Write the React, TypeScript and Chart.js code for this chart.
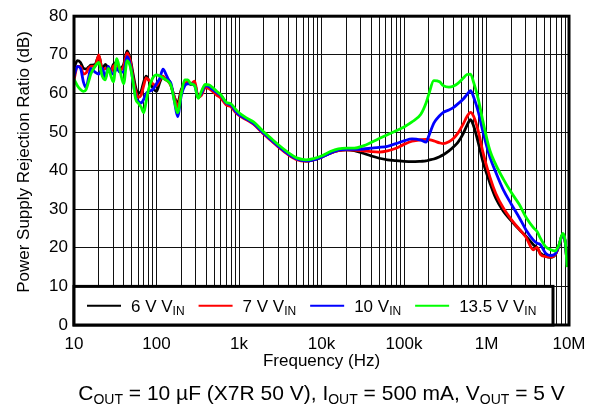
import React, { useEffect, useRef } from 'react';
import { Chart, registerables } from 'chart.js';

Chart.register(...registerables);

const FONT = '"Liberation Sans", Arial, Helvetica, sans-serif';

// Frequency points (Hz)
const FREQ_HZ = [
  10, 11, 12, 13, 14, 15, 16, 18, 20, 22,
  24, 26, 28, 30, 33, 36, 40, 44, 48, 52,
  56, 60, 65, 70, 75, 80, 90, 100, 110, 120,
  130, 140, 150, 165, 180, 200, 220, 240, 260, 290,
  320, 350, 390, 430, 480, 540, 600, 700, 800, 900, 1000,
  1200, 1500, 2000, 2500, 3000, 4000, 5000, 6500, 8000,
  10000, 13000, 16000, 20000, 25000, 32000, 40000, 50000, 63000, 80000,
  100000, 125000, 160000, 185000, 200000, 230000, 270000, 300000, 350000, 400000,
  450000, 520000, 580000, 640000, 700000, 800000, 900000, 1100000, 1300000, 1600000,
  2000000, 2500000, 3000000, 3700000, 4100000, 4500000, 5200000, 6000000, 6800000, 7500000,
  8400000, 9000000, 9500000,
];

// PSRR (dB) for each input voltage
const PSRR_6V = [
  66.5, 68.5, 68, 66.5, 66.3, 66.8, 67.3, 67.5, 69.7, 66.5,
  67.5, 66.5, 66, 67.5, 68, 66.5, 67.5, 71, 69, 65,
  61.5, 60, 60.5, 63, 64.5, 63.5, 61.5, 60.5, 63, 64.3,
  63.5, 63.5, 62, 59, 57.5, 61, 62.5, 62.7, 62.3, 62.5,
  59, 60, 61.8, 61.5, 60.8, 60, 59.5, 57.5, 56.7, 55.5, 54.5,
  53.5, 52.2, 49.6, 47.8, 46.3, 44.2, 43.0, 42.5, 42.8,
  43.5, 44.6, 45.2, 45.4, 45.2, 44.5, 43.8, 43.2, 42.8, 42.6,
  42.4, 42.3, 42.4, 42.5, 42.7, 43, 43.6, 44.1, 45.1, 46.2,
  47.3, 49.5, 51.7, 53.2, 51.5, 47, 42.5, 36.8, 32.8, 29.5,
  27, 24.7, 23, 20.8, 20, 18.6, 17.8, 17.5, 18.2, 20.3,
  23.5, 21.5, 15.5,
];

const PSRR_7V = [
  63.5, 67, 67, 65, 65.3, 66.5, 67, 67, 70, 66,
  66.5, 66, 65.5, 67, 67.5, 66, 67, 70.5, 68.5, 64,
  60.5, 59, 59.5, 62, 64, 63.5, 62.5, 62, 63.5, 64.5,
  63.5, 63, 62, 59, 56.5, 60.5, 62.5, 63, 62.5, 63.2,
  59, 59.5, 61.5, 61.3, 60.5, 59.5, 58.8, 57, 56.5, 55.2, 54.3,
  53.3, 52, 49.4, 47.6, 46.1, 44, 42.8, 42.4, 42.8,
  43.5, 44.6, 45.2, 45.4, 45.3, 45.1, 44.9, 44.8, 45.1, 45.8,
  46.8, 47.6, 48, 48.1, 48, 47.7, 47.2, 47, 47.5, 48.4,
  49.7, 52, 54, 55.1, 54, 50, 45, 38.3, 34, 30.3,
  27.3, 24.8, 22.8, 19.5, 20.1, 18.3, 17.7, 17.6, 18.2, 20.3,
  23.5, 21.5, 15.5,
];

const PSRR_10V = [
  64.5, 67, 66.5, 63, 61.5, 64, 66.5, 65.5, 65, 66.5,
  64, 67, 65.5, 65, 66.5, 65.5, 65.5, 69.5, 67.5, 63,
  59, 58, 57.5, 58.5, 60, 60.5, 61, 62.5, 64, 66.3,
  65, 63.5, 62.5, 58, 54, 59.5, 62, 62.5, 62.5, 62,
  59, 60, 62, 61.8, 61, 60.2, 59.5, 57.5, 57, 55.5, 54.5,
  53.5, 52.2, 49.6, 47.8, 46.3, 44.2, 43.0, 42.5, 42.8,
  43.5, 44.6, 45.3, 45.5, 45.5, 45.6, 45.8, 46, 46.3, 47,
  47.7, 48.2, 47.9, 47.4, 49, 52.3, 54.2, 55.1, 55.7, 56.4,
  57.3, 58.5, 59.7, 60.7, 59, 55, 50.3, 43.5, 39.5, 35,
  31.3, 27.8, 24.7, 22, 21.2, 20.8, 18.6, 18, 18.4, 20.4,
  23.5, 21.5, 15.5,
];

const PSRR_13V5 = [
  63.7, 62, 61, 60.5, 61, 63, 65, 67, 68, 64.5,
  63.5, 66.5, 64.5, 63, 69, 66, 62.5, 68.5, 67, 63,
  58.5, 57.5, 56.5, 55, 58, 61, 64, 64.8, 64.5, 64,
  63.5, 63, 62, 58, 55, 60, 63.5, 63.5, 62.5, 62,
  58.7, 60.5, 62.3, 62.2, 61.5, 60.5, 59.7, 57.7, 57.3, 56, 55,
  53.8, 52.6, 50, 48.2, 46.7, 44.6, 43.3, 42.8, 43.1,
  43.8, 45, 45.6, 45.8, 45.8, 46.4, 47.3, 48.3, 49.3, 50.3,
  51.3, 52.6, 54.6, 57.5, 59.8, 63.3, 63, 62, 61.6, 61.9,
  62.6, 63.9, 64.9, 65, 62.8, 58.3, 53, 45.2, 41.5, 37.8,
  34.3, 31.2, 28, 25.2, 24.2, 22.5, 20.3, 19.5, 19.2, 20.6,
  23.7, 21.8, 15,
];

const SERIES_VALUES = [PSRR_6V, PSRR_7V, PSRR_10V, PSRR_13V5];
const SERIES_LABELS = [['6 V V', 'IN'], ['7 V V', 'IN'], ['10 V', 'IN'], ['13.5 V V', 'IN']];
const SERIES_COLORS = ['#000000', '#ff0000', '#0000ff', '#00ff00'];

const X_TICKS = [10, 100, 1000, 10000, 100000, 1000000, 10000000];
const X_TICK_LABELS = ['10', '100', '1k', '10k', '100k', '1M', '10M'];
const MINOR_MULTIPLIERS = [1, 2, 3, 4, 5, 6, 7, 8, 9];
const Y_MIN = 0;
const Y_MAX = 80;
const Y_STEP = 10;
const LEGEND_TOP_VALUE = 10;

const X_TITLE = 'Frequency (Hz)';
const Y_TITLE = 'Power Supply Rejection Ratio (dB)';
const CAPTION: [string, boolean][] = [
  ['C', false], ['OUT', true], [' = 10 µF (X7R 50 V), I', false], ['OUT', true],
  [' = 500 mA, V', false], ['OUT', true], [' = 5 V', false],
];

function drawRich(ctx: CanvasRenderingContext2D, parts: [string, boolean][], x: number, y: number,
  main: number, sub: number, drop: number, draw: boolean): number {
  let cx = x;
  for (const [t, isSub] of parts) {
    ctx.font = `${isSub ? sub : main}px ${FONT}`;
    if (draw) ctx.fillText(t, cx, isSub ? y + drop : y);
    cx += ctx.measureText(t).width;
  }
  return cx - x;
}

const decor = {
  id: 'decor',
  afterDraw(chart: any) {
    const { ctx, chartArea: a } = chart;
    const yS = chart.scales.y;
    ctx.save();
    ctx.strokeStyle = '#000';
    ctx.fillStyle = '#000';
    ctx.lineWidth = 3;
    ctx.strokeRect(a.left, a.top, a.right - a.left, a.bottom - a.top);

    // legend box
    const top = yS.getPixelForValue(LEGEND_TOP_VALUE);
    const left = a.left;
    const right = a.right - 16;
    const bottom = a.bottom;
    ctx.fillStyle = '#fff';
    ctx.fillRect(left, top, right - left, bottom - top);
    ctx.strokeRect(left, top, right - left, bottom - top);
    const cy = (top + bottom) / 2;
    let x = left + 13;
    ctx.textBaseline = 'alphabetic';
    ctx.textAlign = 'left';
    for (let i = 0; i < SERIES_LABELS.length; i++) {
      ctx.strokeStyle = SERIES_COLORS[i];
      ctx.lineWidth = 2;
      ctx.beginPath();
      ctx.moveTo(x, cy);
      ctx.lineTo(x + 34, cy);
      ctx.stroke();
      ctx.fillStyle = '#000';
      const parts: [string, boolean][] = [[SERIES_LABELS[i][0], false], [SERIES_LABELS[i][1], true]];
      const w = drawRich(ctx, parts, x + 44, cy + 6.5, 17, 12, 3, true);
      x = x + 44 + w + 14;
    }

    // axis titles
    ctx.fillStyle = '#000';
    ctx.textAlign = 'center';
    ctx.textBaseline = 'middle';
    ctx.font = `17px ${FONT}`;
    ctx.fillText(X_TITLE, (a.left + a.right) / 2, 361);
    ctx.save();
    ctx.translate(24, 162);
    ctx.rotate(-Math.PI / 2);
    ctx.fillText(Y_TITLE, 0, 0);
    ctx.restore();

    // caption
    ctx.textAlign = 'left';
    ctx.textBaseline = 'alphabetic';
    const cw = drawRich(ctx, CAPTION, 0, 0, 21, 14, 4, false);
    drawRich(ctx, CAPTION, (a.left + a.right) / 2 - cw / 2, 400, 21, 14, 4, true);
    ctx.restore();
  },
};

export default function App() {
  const ref = useRef<HTMLCanvasElement>(null);
  useEffect(() => {
    document.body.style.margin = '0';
    const xTickValues: number[] = [];
    for (let d = 0; d < X_TICKS.length - 1; d++) {
      for (const m of MINOR_MULTIPLIERS) xTickValues.push(X_TICKS[d] * m);
    }
    xTickValues.push(X_TICKS[X_TICKS.length - 1]);

    const chart = new Chart(ref.current as HTMLCanvasElement, {
      type: 'line',
      data: {
        datasets: SERIES_VALUES.map((vals, i) => ({
          label: SERIES_LABELS[i].join(''),
          data: FREQ_HZ.map((f, j) => ({ x: f, y: vals[j] })),
          borderColor: SERIES_COLORS[i],
          backgroundColor: SERIES_COLORS[i],
          borderWidth: 2.8,
          pointRadius: 0,
          fill: false,
          cubicInterpolationMode: 'monotone' as const,
          order: SERIES_VALUES.length - 1 - i,
        })),
      },
      options: {
        animation: false,
        responsive: false,
        devicePixelRatio: 1,
        layout: { padding: { left: 0, right: 27, top: 13, bottom: 0 } },
        plugins: { legend: { display: false }, tooltip: { enabled: false } },
        scales: {
          x: {
            type: 'logarithmic',
            min: X_TICKS[0],
            max: X_TICKS[X_TICKS.length - 1],
            afterBuildTicks: (s: any) => { s.ticks = xTickValues.map((v) => ({ value: v })); },
            afterFit: (s: any) => { s.height = 92; },
            grid: { color: '#111', lineWidth: 1, drawTicks: false },
            border: { display: false },
            ticks: {
              autoSkip: false, maxRotation: 0, minRotation: 0, padding: 9, color: '#000',
              font: { size: 17, family: FONT },
              callback: (v: any) => {
                const i = X_TICKS.indexOf(Number(v));
                return i >= 0 ? X_TICK_LABELS[i] : '';
              },
            },
          },
          y: {
            min: Y_MIN,
            max: Y_MAX,
            afterFit: (s: any) => { s.width = 74; },
            grid: { color: '#111', lineWidth: 1, drawTicks: false },
            border: { display: false },
            ticks: { stepSize: Y_STEP, padding: 6, color: '#000', font: { size: 17, family: FONT } },
          },
        },
      },
      plugins: [decor],
    } as any);
    return () => chart.destroy();
  }, []);
  return <canvas ref={ref} width={596} height={417} style={{ display: 'block', width: 596, height: 417 }} />;
}
